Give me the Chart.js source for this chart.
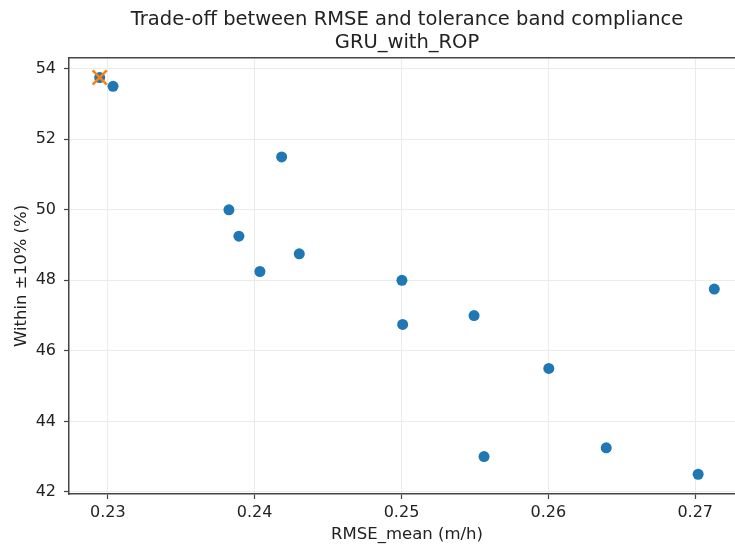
<!DOCTYPE html>
<html>
<head>
<meta charset="utf-8">
<script src="https://cdn.jsdelivr.net/npm/chart.js@4/dist/chart.umd.min.js"></script>
<style>
  html, body { margin: 0; background: #fff; overflow: hidden; }
  #wrap { width: 735px; height: 548px; overflow: hidden; }
</style>
</head>
<body>
<div id="wrap"><canvas id="myChart" width="760" height="548"></canvas></div>
<script>
// data
const rmseMean = [0.22945, 0.23036, 0.24184, 0.23825, 0.23893, 0.24304, 0.24036, 0.25003,
                  0.25008, 0.25494, 0.26003, 0.25562, 0.27130, 0.26394, 0.27020];
const within10 = [53.75, 53.5, 51.5, 50.0, 49.25, 48.75, 48.25, 48.0,
                  46.75, 47.0, 45.5, 43.0, 47.75, 43.25, 42.5];
const bestRmse = [0.22945];
const bestWithin = [53.75];

const xTicks = [0.23, 0.24, 0.25, 0.26, 0.27];
const yTicks = [42, 44, 46, 48, 50, 52, 54];
const xLimits = [0.22736, 0.27339];
const yLimits = [41.94, 54.31];

const ctx = document.getElementById('myChart');

Chart.defaults.font.family = 'DejaVu Sans';
Chart.defaults.color = '#222';

const toPoints = (xs, ys) => xs.map((x, i) => ({ x: x, y: ys[i] }));

// top spine (right one is cut off in the reference)
const topSpine = {
    id: 'topSpine',
    afterDraw(chart) {
        const a = chart.chartArea;
        const c = chart.ctx;
        c.save();
        c.strokeStyle = '#444';
        c.lineWidth = 1.5;
        c.beginPath();
        c.moveTo(a.left, a.top);
        c.lineTo(a.right, a.top);
        c.stroke();
        c.restore();
    }
};

new Chart(ctx, {
    type: 'scatter',
    data: {
        datasets: [{
            label: 'runs',
            data: toPoints(rmseMean, within10),
            backgroundColor: '#1f77b4',
            borderWidth: 0,
            pointRadius: 5.5,
            pointHoverRadius: 5.5,
            order: 2
        }, {
            label: 'best',
            data: toPoints(bestRmse, bestWithin),
            pointStyle: 'crossRot',
            borderColor: '#ff7f0e',
            borderWidth: 2.5,
            pointRadius: 10,
            pointHoverRadius: 10,
            order: 1
        }]
    },
    options: {
        responsive: false,
        animation: false,
        layout: { padding: { top: 0, right: 15, left: 0, bottom: 0 } },
        plugins: {
            legend: { display: false },
            tooltip: { enabled: false },
            title: {
                display: true,
                fullSize: false,
                text: ['Trade-off between RMSE and tolerance band compliance', 'GRU_with_ROP'],
                font: { size: 19.5, weight: 'normal', lineHeight: 1.2 },
                color: '#222',
                padding: { top: 8, bottom: 3 }
            }
        },
        scales: {
            x: {
                type: 'linear',
                min: xLimits[0],
                max: xLimits[1],
                afterFit: s => { s.height = 54; },
                afterBuildTicks: s => { s.ticks = xTicks.map(v => ({ value: v })); },
                ticks: {
                    callback: v => v.toFixed(2),
                    font: { size: 16 },
                    color: '#222',
                    padding: 4,
                    maxRotation: 0
                },
                grid: { color: '#ebebeb', lineWidth: 1, tickColor: '#444', tickLength: 5, tickWidth: 1.2 },
                border: { color: '#444', width: 1.5 },
                title: {
                    display: true,
                    text: 'RMSE_mean (m/h)',
                    font: { size: 16.5 },
                    color: '#222',
                    padding: { top: 0, bottom: 3 }
                }
            },
            y: {
                type: 'linear',
                min: yLimits[0],
                max: yLimits[1],
                afterFit: s => { s.width = 69; },
                afterBuildTicks: s => { s.ticks = yTicks.map(v => ({ value: v })); },
                ticks: {
                    callback: v => String(v),
                    font: { size: 16 },
                    color: '#222',
                    padding: 8
                },
                grid: { color: '#ebebeb', lineWidth: 1, tickColor: '#444', tickLength: 5, tickWidth: 1.2 },
                border: { color: '#444', width: 1.5 },
                title: {
                    display: true,
                    text: 'Within ±10% (%)',
                    font: { size: 16.5 },
                    color: '#222',
                    padding: { top: 11.5, bottom: 0 }
                }
            }
        }
    },
    plugins: [topSpine]
});
</script>
</body>
</html>
